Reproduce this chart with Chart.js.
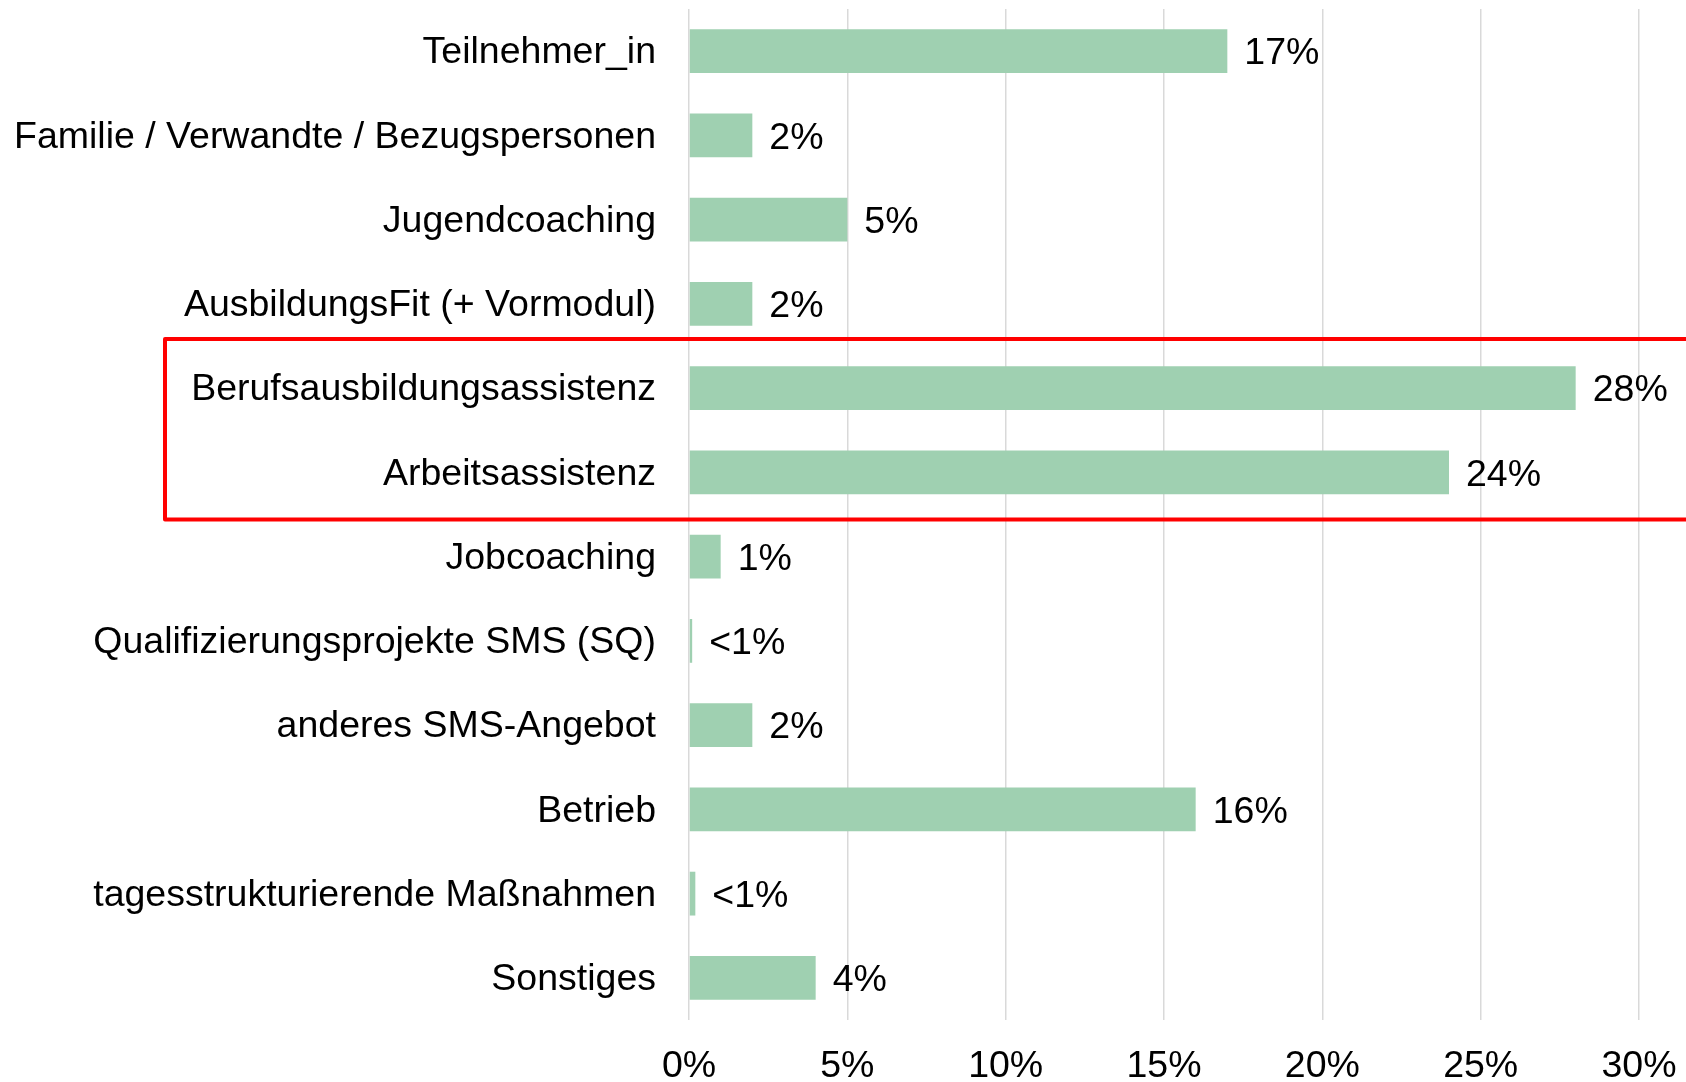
<!DOCTYPE html>
<html>
  <head>
    <title>Zuweisende Stellen</title>
    <script src="https://cdn.jsdelivr.net/npm/chart.js"></script>
    <style>
      html, body { margin: 0; padding: 0; background: #fff; }
      #myChart { display: block; }
    </style>
  </head>
  <body>
    <canvas id="myChart" width="1686" height="1082"></canvas>

<script>
// Kategorien und Werte (in Prozent)
const categories = [
  "Teilnehmer_in",
  "Familie / Verwandte / Bezugspersonen",
  "Jugendcoaching",
  "AusbildungsFit (+ Vormodul)",
  "Berufsausbildungsassistenz",
  "Arbeitsassistenz",
  "Jobcoaching",
  "Qualifizierungsprojekte SMS (SQ)",
  "anderes SMS-Angebot",
  "Betrieb",
  "tagesstrukturierende Maßnahmen",
  "Sonstiges"
];
const values = [17, 2, 5, 2, 28, 24, 1, 0.1, 2, 16, 0.2, 4];
const valueLabels = ["17%", "2%", "5%", "2%", "28%", "24%", "1%", "<1%", "2%", "16%", "<1%", "4%"];
const xTicks = [0, 5, 10, 15, 20, 25, 30];

// markierte Zeilen (rote Box)
const highlightFrom = 4;
const highlightTo = 5;

const FONT = "'Liberation Sans', Arial, sans-serif";
const FONT_SIZE = 37.5;

// Beschriftung rechts neben den Balken
const valueLabelPlugin = {
  id: "valueLabels",
  afterDatasetsDraw(chart) {
    const ctx = chart.ctx;
    const meta = chart.getDatasetMeta(0);
    ctx.save();
    ctx.font = FONT_SIZE + "px " + FONT;
    ctx.fillStyle = "#000";
    ctx.textAlign = "left";
    ctx.textBaseline = "middle";
    meta.data.forEach((bar, i) => {
      ctx.fillText(valueLabels[i], bar.x + 17, bar.y + 3);
    });
    ctx.restore();
  }
};

// rote Box um Berufsausbildungsassistenz / Arbeitsassistenz
const highlightPlugin = {
  id: "highlightBox",
  afterDraw(chart) {
    const y = chart.scales.y;
    const band = (y.bottom - y.top) / categories.length;
    const top = y.getPixelForValue(highlightFrom) - band / 2 - 7;
    const bottom = y.getPixelForValue(highlightTo) + band / 2 + 5;
    const ctx = chart.ctx;
    ctx.save();
    ctx.strokeStyle = "#ff0000";
    ctx.lineWidth = 4;
    ctx.lineJoin = "round";
    ctx.strokeRect(165, top, chart.width + 20, bottom - top);
    ctx.restore();
  }
};

const ctx = document.getElementById("myChart").getContext("2d");
const chart = new Chart(ctx, {
  type: "bar",
  data: {
    labels: categories,
    datasets: [
      {
        data: values,
        backgroundColor: "#9fd0b1",
        borderWidth: 0,
        barPercentage: 0.52,
        categoryPercentage: 1.0
      }
    ]
  },
  options: {
    indexAxis: "y",
    responsive: false,
    animation: false,
    devicePixelRatio: 1,
    layout: { padding: { top: 9, right: 47, left: 0, bottom: 0 } },
    plugins: {
      legend: { display: false },
      tooltip: { enabled: false }
    },
    scales: {
      x: {
        min: 0,
        max: 30,
        afterBuildTicks(scale) {
          scale.ticks = xTicks.map(v => ({ value: v }));
        },
        afterFit(scale) {
          scale.height = 62;
          scale.paddingLeft = 0;
          scale.paddingRight = 0;
        },
        ticks: {
          callback: v => v + "%",
          color: "#000",
          font: { family: FONT, size: FONT_SIZE },
          padding: 24,
          maxRotation: 0
        },
        grid: { color: "#d9d9d9", lineWidth: 1.5, drawTicks: false },
        border: { display: false }
      },
      y: {
        afterFit(scale) {
          scale.width = 689;
          scale.paddingTop = 0;
          scale.paddingBottom = 0;
        },
        ticks: {
          color: "#000",
          font: { family: FONT, size: FONT_SIZE },
          padding: 33,
          labelOffset: 2,
          autoSkip: false
        },
        grid: { display: false, drawTicks: false },
        border: { display: false }
      }
    }
  },
  plugins: [valueLabelPlugin, highlightPlugin]
});
</script>
  </body>
</html>
